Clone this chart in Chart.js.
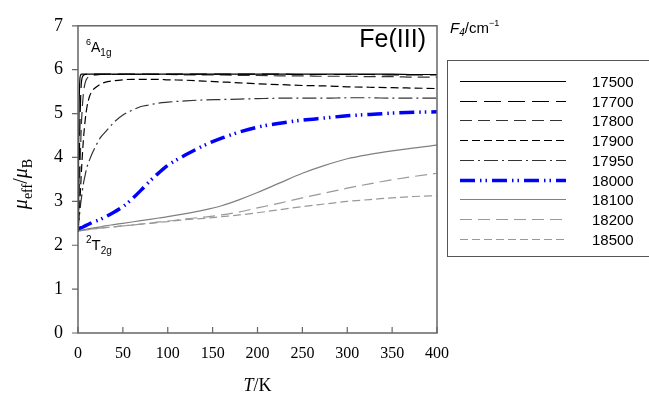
<!DOCTYPE html>
<html>
<head>
<meta charset="utf-8">
<script src="https://cdn.jsdelivr.net/npm/chart.js@4.4.1/dist/chart.umd.min.js"></script>
<style>
  html, body { margin: 0; padding: 0; background: #fff; }
  #wrap { width: 649px; height: 400px; position: relative; }
</style>
</head>
<body>
<div id="wrap"><canvas id="myChart" width="649" height="400"></canvas></div>
<script>
// temperatures (K) shared by every curve
const temps = [0, 1, 2, 3, 4, 6, 8, 10, 13, 16, 20, 25, 30, 40, 50, 60, 70, 80, 90, 100,
               120, 140, 160, 180, 200, 225, 250, 275, 300, 325, 350, 375, 400];

// mu_eff / mu_B for each F4 value
const mu17500 = [2.3, 4.8, 5.75, 5.88, 5.9, 5.9, 5.9, 5.9, 5.9, 5.9, 5.9, 5.9, 5.9, 5.9, 5.9, 5.9, 5.9, 5.9, 5.9, 5.9,
                 5.9, 5.9, 5.9, 5.9, 5.9, 5.9, 5.9, 5.9, 5.9, 5.9, 5.9, 5.89, 5.89];
const mu17700 = [2.3, 3.4, 4.6, 5.4, 5.75, 5.87, 5.89, 5.9, 5.9, 5.9, 5.9, 5.9, 5.9, 5.9, 5.9, 5.9, 5.9, 5.9, 5.9, 5.9,
                 5.9, 5.9, 5.9, 5.9, 5.9, 5.9, 5.89, 5.89, 5.89, 5.89, 5.88, 5.88, 5.88];
const mu17800 = [2.3, 2.9, 3.6, 4.3, 4.85, 5.45, 5.7, 5.8, 5.85, 5.87, 5.88, 5.89, 5.89, 5.89, 5.89, 5.89, 5.89, 5.89, 5.89, 5.89,
                 5.88, 5.88, 5.88, 5.87, 5.87, 5.86, 5.86, 5.85, 5.85, 5.84, 5.84, 5.83, 5.83];
const mu17900 = [2.3, 2.6, 2.95, 3.35, 3.75, 4.4, 4.85, 5.15, 5.4, 5.52, 5.6, 5.67, 5.71, 5.75, 5.77, 5.78, 5.78, 5.78, 5.78, 5.77,
                 5.76, 5.74, 5.72, 5.7, 5.68, 5.66, 5.64, 5.63, 5.61, 5.6, 5.59, 5.58, 5.57];
const mu17950 = [2.3, 2.55, 2.75, 2.95, 3.1, 3.4, 3.6, 3.78, 3.95, 4.1, 4.27, 4.45, 4.57, 4.8, 4.97, 5.07, 5.16, 5.2, 5.24, 5.26,
                 5.29, 5.31, 5.32, 5.33, 5.34, 5.35, 5.35, 5.35, 5.36, 5.36, 5.35, 5.35, 5.35];
const mu18000 = [2.37, 2.38, 2.39, 2.4, 2.4, 2.42, 2.44, 2.46, 2.49, 2.52, 2.55, 2.59, 2.64, 2.75, 2.88, 3.05, 3.25, 3.46, 3.65, 3.82,
                 4.06, 4.27, 4.44, 4.58, 4.69, 4.78, 4.85, 4.9, 4.95, 4.98, 5.01, 5.03, 5.04];
const mu18100 = [2.33, 2.33, 2.33, 2.34, 2.34, 2.35, 2.36, 2.37, 2.38, 2.39, 2.4, 2.42, 2.44, 2.47, 2.5, 2.53, 2.56, 2.59, 2.62, 2.65,
                 2.72, 2.8, 2.9, 3.04, 3.2, 3.42, 3.64, 3.82, 3.97, 4.07, 4.15, 4.22, 4.28];
const mu18200 = [2.33, 2.33, 2.33, 2.33, 2.34, 2.34, 2.35, 2.35, 2.36, 2.37, 2.38, 2.39, 2.4, 2.42, 2.44, 2.46, 2.48, 2.5, 2.53, 2.55,
                 2.6, 2.64, 2.69, 2.76, 2.85, 2.96, 3.08, 3.19, 3.3, 3.4, 3.49, 3.57, 3.64];
const mu18500 = [2.33, 2.33, 2.33, 2.33, 2.34, 2.34, 2.35, 2.35, 2.36, 2.37, 2.38, 2.39, 2.4, 2.42, 2.44, 2.46, 2.48, 2.5, 2.52, 2.54,
                 2.58, 2.61, 2.65, 2.69, 2.74, 2.81, 2.88, 2.94, 3.0, 3.04, 3.08, 3.11, 3.13];

const seriesLabels = ['17500', '17700', '17800', '17900', '17950', '18000', '18100', '18200', '18500'];
const seriesValues = [mu17500, mu17700, mu17800, mu17900, mu17950, mu18000, mu18100, mu18200, mu18500];
const xTicks = [0, 50, 100, 150, 200, 250, 300, 350, 400];
const yTicks = [0, 1, 2, 3, 4, 5, 6, 7];

const styles = [
    { color: '#000000', width: 1.2, dash: [] },
    { color: '#000000', width: 1.2, dash: [17, 7] },
    { color: '#333333', width: 1.2, dash: [12, 6] },
    { color: '#000000', width: 1.2, dash: [8, 4] },
    { color: '#333333', width: 1.2, dash: [14, 4, 2, 4] },
    { color: '#0000ff', width: 3.5, dash: [15, 5, 1.5, 4, 1.5, 5] },
    { color: '#808080', width: 1.2, dash: [] },
    { color: '#999999', width: 1.2, dash: [12, 6] },
    { color: '#999999', width: 1.2, dash: [8, 4] }
];

const SERIF = "'Liberation Serif', 'Times New Roman', serif";
const SANS = "'Liberation Sans', Arial, sans-serif";

// draws a run of text pieces with their own fonts / vertical offsets
function drawRich(ctx, parts, x, y, align) {
    let total = 0;
    parts.forEach(p => { ctx.font = p.font; total += ctx.measureText(p.t).width; });
    let cx = align === 'center' ? x - total / 2 : (align === 'right' ? x - total : x);
    ctx.textAlign = 'left';
    ctx.textBaseline = 'alphabetic';
    parts.forEach(p => {
        ctx.font = p.font;
        ctx.fillText(p.t, cx, y + (p.dy || 0));
        cx += ctx.measureText(p.t).width;
    });
}

const framePlugin = {
    id: 'frame',
    afterDatasetsDraw(chart) {
        const { ctx, chartArea: a, scales } = chart;
        ctx.save();
        ctx.strokeStyle = '#666666';
        ctx.lineWidth = 1.5;
        ctx.setLineDash([]);
        ctx.strokeRect(a.left, a.top, a.right - a.left, a.bottom - a.top);

        // x ticks point inward, y ticks point outward
        ctx.lineWidth = 1.2;
        ctx.beginPath();
        xTicks.forEach(v => {
            const px = scales.x.getPixelForValue(v);
            ctx.moveTo(px, a.bottom);
            ctx.lineTo(px, a.bottom - 6);
        });
        yTicks.forEach(v => {
            const py = scales.y.getPixelForValue(v);
            ctx.moveTo(a.left, py);
            ctx.lineTo(a.left - 6, py);
        });
        ctx.stroke();

        ctx.fillStyle = '#000';
        // axis titles
        drawRich(ctx, [
            { t: 'T', font: 'italic 18px ' + SERIF },
            { t: '/K', font: '18px ' + SERIF }
        ], (a.left + a.right) / 2, 391, 'center');

        ctx.save();
        ctx.translate(27, 184);
        ctx.rotate(-Math.PI / 2);
        drawRich(ctx, [
            { t: 'μ', font: 'italic 20px ' + SERIF },
            { t: 'eff', font: '14px ' + SERIF, dy: 5 },
            { t: '/', font: '20px ' + SERIF },
            { t: 'μ', font: 'italic 20px ' + SERIF },
            { t: 'B', font: '14px ' + SERIF, dy: 5 }
        ], 0, 0, 'center');
        ctx.restore();

        // annotations inside the plot
        drawRich(ctx, [{ t: 'Fe(III)', font: '25px ' + SANS }], a.right - 11, 47, 'right');
        drawRich(ctx, [
            { t: '6', font: '9px ' + SANS, dy: -7 },
            { t: 'A', font: '14px ' + SANS },
            { t: '1g', font: '10px ' + SANS, dy: 4 }
        ], 86, 52, 'left');
        drawRich(ctx, [
            { t: '2', font: '10px ' + SANS, dy: -7 },
            { t: 'T', font: '15px ' + SANS },
            { t: '2g', font: '10px ' + SANS, dy: 4 }
        ], 86, 250, 'left');

        // legend
        drawRich(ctx, [
            { t: 'F', font: 'italic 15px ' + SANS },
            { t: '4', font: 'italic 10px ' + SANS, dy: 3 },
            { t: '/cm', font: '15px ' + SANS },
            { t: '−1', font: '9px ' + SANS, dy: -7 }
        ], 450, 33, 'left');

        ctx.strokeStyle = '#555555';
        ctx.lineWidth = 1;
        ctx.strokeRect(447.5, 60.5, 220, 196);

        seriesLabels.forEach((lab, i) => {
            const ds = chart.data.datasets[i];
            const ry = Math.round(81 + i * 19.7) + 0.5;
            ctx.strokeStyle = ds.borderColor;
            ctx.lineWidth = ds.borderWidth > 2 ? ds.borderWidth : 1;
            ctx.setLineDash(ds.borderDash);
            ctx.beginPath();
            ctx.moveTo(460, ry);
            ctx.lineTo(566, ry);
            ctx.stroke();
            ctx.setLineDash([]);
            ctx.fillStyle = '#000';
            ctx.font = '15px ' + SANS;
            ctx.textAlign = 'left';
            ctx.textBaseline = 'middle';
            ctx.fillText(lab, 592, ry + 1);
        });
        ctx.restore();
    }
};

document.addEventListener('DOMContentLoaded', () => {
    const chartCanvas = document.getElementById('myChart');
    const ctx = chartCanvas.getContext('2d');

    const datasets = seriesLabels.map((lab, i) => ({
        label: lab,
        data: temps.map((t, j) => ({ x: t, y: seriesValues[i][j] })),
        borderColor: styles[i].color,
        borderWidth: styles[i].width,
        borderDash: styles[i].dash,
        pointRadius: 0,
        fill: false,
        cubicInterpolationMode: 'monotone'
    }));

    new Chart(ctx, {
        type: 'line',
        data: { datasets: datasets },
        options: {
            responsive: false,
            animation: false,
            layout: { padding: { top: 18, right: 212, left: 0, bottom: 0 } },
            plugins: { legend: { display: false }, tooltip: { enabled: false } },
            scales: {
                x: {
                    type: 'linear',
                    min: 0,
                    max: 400,
                    afterFit: s => { s.height = 67; },
                    afterBuildTicks: s => { s.ticks = xTicks.map(v => ({ value: v })); },
                    grid: { display: false, drawTicks: false },
                    border: { display: false },
                    ticks: { color: '#000', padding: 11, maxRotation: 0, font: { family: SERIF, size: 16 } }
                },
                y: {
                    min: 0,
                    max: 7,
                    afterFit: s => { s.width = 78; },
                    afterBuildTicks: s => { s.ticks = yTicks.map(v => ({ value: v })); },
                    grid: { display: false, drawTicks: false },
                    border: { display: false },
                    ticks: { color: '#000', padding: 15, font: { family: SERIF, size: 18 } }
                }
            }
        },
        plugins: [framePlugin]
    });
});
</script>
</body>
</html>
